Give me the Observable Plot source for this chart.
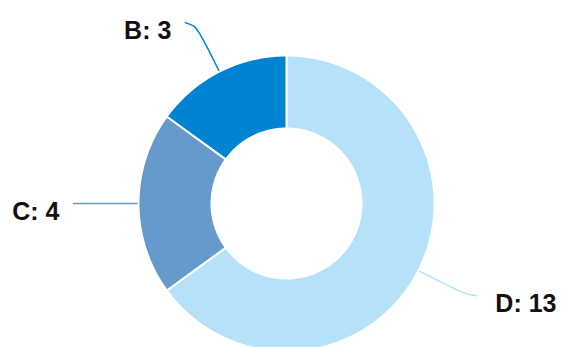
<!DOCTYPE html>
<html>
<head>
<meta charset="utf-8">
<script src="https://cdn.jsdelivr.net/npm/d3@7"></script>
<script src="https://cdn.jsdelivr.net/npm/@observablehq/plot@0.6"></script>
<style>
  html, body { margin: 0; padding: 0; background: #fff; }
  #chart svg { display: block; }
</style>
</head>
<body>
<div id="chart"></div>
<script>
// Data (clockwise from 12 o'clock)
const categories = ["D", "C", "B"];
const values = [13, 4, 3];
const colors = ["#b5e1f9", "#6699cc", "#0084d1"];

const W = 561, H = 347;
const cx = 286, cy = 203, R = 148, rIn = 75;
const inner = rIn / R;

const total = d3.sum(values);
let acc = 0;
const slices = categories.map((c, i) => {
  const a0 = acc / total * 2 * Math.PI;
  acc += values[i];
  const a1 = acc / total * 2 * Math.PI;
  return {key: c, value: values[i], a0, a1, mid: (a0 + a1) / 2};
});

// Slice outlines as closed polygons in data units (outer radius = 1)
const ringPts = [];
for (const s of slices) {
  const n = Math.max(8, Math.ceil((s.a1 - s.a0) / (Math.PI / 360)));
  for (let k = 0; k <= n; k++) {
    const a = s.a0 + (s.a1 - s.a0) * k / n;
    ringPts.push({key: s.key, x: Math.sin(a), y: Math.cos(a)});
  }
  for (let k = n; k >= 0; k--) {
    const a = s.a0 + (s.a1 - s.a0) * k / n;
    ringPts.push({key: s.key, x: inner * Math.sin(a), y: inner * Math.cos(a)});
  }
}

// Leader-line shapes (pixel offsets from slice's outer mid-point)
const leaderShape = {
  B: [[0, 0], [-18, -35], [-25, -45], [-34, -49]],
  C: [[0, 0], [-65, 0]],
  D: [[0, 0], [36, 18], [48, 23], [58, 25]]
};
const labelOffset = {B: -14, C: -14, D: 19};

const leaderPts = [];
const labels = [];
for (const s of slices) {
  const sx = Math.sin(s.mid), sy = Math.cos(s.mid);
  const shape = leaderShape[s.key];
  for (const [dx, dy] of shape) {
    leaderPts.push({key: s.key, x: sx + dx / R, y: sy - dy / R});
  }
  const [ex, ey] = shape[shape.length - 1];
  labels.push({
    key: s.key,
    text: `${s.key}: ${s.value}`,
    x: sx + ex / R,
    y: sy - ey / R,
    side: sx >= 0 ? "right" : "left",
    dx: labelOffset[s.key]
  });
}

const xDomain = [-cx / R, (W - cx) / R];
const yDomain = [-(H - cy) / R, cy / R];
const font = "'Liberation Sans', Arial, Helvetica, sans-serif";

const plot = Plot.plot({
  width: W,
  height: H,
  margin: 0,
  x: {domain: xDomain, range: [0, W], axis: null},
  y: {domain: yDomain, range: [H, 0], axis: null},
  color: {domain: categories, range: colors},
  style: {background: "#fff"},
  marks: [
    Plot.line(leaderPts, {
      x: "x", y: "y", z: "key", stroke: "key",
      strokeWidth: 1.5, curve: "catmull-rom"
    }),
    Plot.line(ringPts, {
      x: "x", y: "y", z: "key", fill: "key",
      stroke: "#ffffff", strokeWidth: 2, curve: "linear-closed"
    }),
    Plot.text(labels.filter(d => d.side === "left"), {
      x: "x", y: "y", text: "text", textAnchor: "end",
      dx: -14, dy: 8.5,
      fontSize: 25, fontWeight: "bold", fontFamily: font, fill: "#111"
    }),
    Plot.text(labels.filter(d => d.side === "right"), {
      x: "x", y: "y", text: "text", textAnchor: "start",
      dx: 19, dy: 8.5,
      fontSize: 25, fontWeight: "bold", fontFamily: font, fill: "#111"
    })
  ]
});

document.getElementById("chart").appendChild(plot);
</script>
</body>
</html>
